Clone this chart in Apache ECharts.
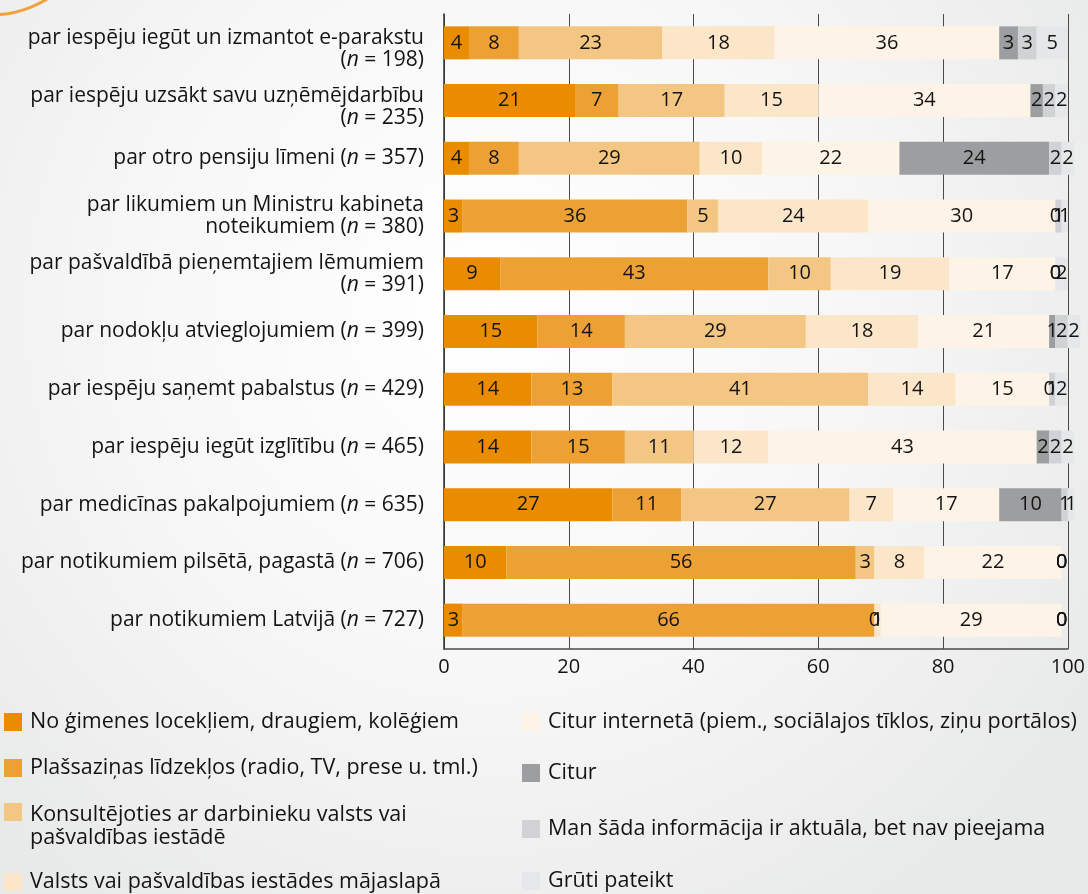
<!DOCTYPE html>
<html>
<head>
<meta charset="utf-8">
<title>Informācijas avoti</title>
<script src="https://cdn.jsdelivr.net/npm/echarts@6/dist/echarts.min.js"></script>
<style>
  html, body { margin: 0; padding: 0; }
  #chart { width: 1088px; height: 894px; }
</style>
</head>
<body>
<div id="chart"></div>
<script>
// kategorijas (no augšas uz leju)
const categories = [
  'par iespēju iegūt un izmantot e-parakstu\n(n = 198)',
  'par iespēju uzsākt savu uzņēmējdarbību\n(n = 235)',
  'par otro pensiju līmeni (n = 357)',
  'par likumiem un Ministru kabineta\nnoteikumiem (n = 380)',
  'par pašvaldībā pieņemtajiem lēmumiem\n(n = 391)',
  'par nodokļu atvieglojumiem (n = 399)',
  'par iespēju saņemt pabalstus (n = 429)',
  'par iespēju iegūt izglītību (n = 465)',
  'par medicīnas pakalpojumiem (n = 635)',
  'par notikumiem pilsētā, pagastā (n = 706)',
  'par notikumiem Latvijā (n = 727)'
];

const sources = [
  'No ģimenes locekļiem, draugiem, kolēģiem',
  'Plašsaziņas līdzekļos (radio, TV, prese u. tml.)',
  'Konsultējoties ar darbinieku valsts vai pašvaldības iestādē',
  'Valsts vai pašvaldības iestādes mājaslapā',
  'Citur internetā (piem., sociālajos tīklos, ziņu portālos)',
  'Citur',
  'Man šāda informācija ir aktuāla, bet nav pieejama',
  'Grūti pateikt'
];

// vērtības, %
const family       = [4, 21, 4, 3, 9, 15, 14, 14, 27, 10, 3];
const media        = [8, 7, 8, 36, 43, 14, 13, 15, 11, 56, 66];
const consult      = [23, 17, 29, 5, 10, 29, 41, 11, 27, 3, 0];
const website      = [18, 15, 10, 24, 19, 18, 14, 12, 7, 8, 1];
const internet     = [36, 34, 22, 30, 17, 21, 15, 43, 17, 22, 29];
const elsewhere    = [3, 2, 24, 0, 0, 1, 0, 2, 10, 0, 0];
const notAvailable = [3, 2, 2, 1, 0, 2, 1, 2, 1, 0, 0];
const hardToSay    = [5, 2, 2, 1, 2, 2, 2, 2, 1, 0, 0];

const xTicks = [0, 20, 40, 60, 80, 100];

const seriesValues = [family, media, consult, website, internet, elsewhere, notAvailable, hardToSay];
const colors = ['#ea8c00', '#eda134', '#f4c683', '#fbe6ca', '#fdf3e6', '#9d9e9f', '#d1d2d4', '#e6e7e8'];

const textColor = '#141414';
const fontFamily = '"Open Sans", "Noto Sans", sans-serif';

const chart = echarts.init(document.getElementById('chart'));

// leģenda: divas kolonnas, katrs ieraksts atsevišķi
const legendPos = [
  { left: 4, top: 710 },
  { left: 4, top: 756 },
  { left: 4, top: 803, twoLines: true },
  { left: 4, top: 870 },
  { left: 522, top: 710 },
  { left: 522, top: 761 },
  { left: 522, top: 817 },
  { left: 522, top: 869 }
];

const legends = sources.map((name, i) => {
  const pos = legendPos[i];
  return {
    data: [name],
    left: pos.left,
    top: pos.top,
    padding: 0,
    itemWidth: 18,
    itemHeight: pos.twoLines ? 46 : 18,
    icon: pos.twoLines ? 'path://M0,0L18,0L18,18L0,18Z M0,46' : 'rect',
    selectedMode: false,
    formatter: pos.twoLines ? () => 'Konsultējoties ar darbinieku valsts vai\npašvaldības iestādē' : undefined,
    textStyle: {
      color: textColor,
      fontSize: 21.5,
      lineHeight: pos.twoLines ? 23 : 24,
      fontFamily: fontFamily,
      padding: [0, 0, 0, 3]
    }
  };
});

const series = sources.map((name, i) => ({
  name: name,
  type: 'bar',
  stack: 'total',
  barWidth: 33,
  clip: false,
  data: seriesValues[i],
  itemStyle: { color: colors[i] },
  label: {
    show: true,
    position: 'inside',
    color: textColor,
    fontSize: 20,
    fontFamily: fontFamily
  },
  emphasis: { disabled: true }
}));

// pirmās divas etiķetes oriģinālā ir nedaudz zemāk
const yData = categories.map((c, i) => i < 2 ? { value: c, textStyle: { padding: [12, 0, 0, 0] } } : c);

const option = {
  backgroundColor: {
    type: 'radial',
    x: 0.45,
    y: 0.35,
    r: 0.8,
    colorStops: [
      { offset: 0, color: '#ffffff' },
      { offset: 0.5, color: '#f7f7f7' },
      { offset: 1, color: '#e8e9e9' }
    ]
  },
  animation: false,
  textStyle: { fontFamily: fontFamily },
  graphic: [{
    type: 'arc',
    shape: { cx: -10, cy: -95, r: 110, startAngle: 0, endAngle: Math.PI },
    style: { stroke: '#f0a23a', lineWidth: 3, fill: null }
  }],
  grid: {
    left: 444,
    right: 16,
    top: 14,
    bottom: 245,
    containLabel: false
  },
  legend: legends,
  xAxis: {
    type: 'value',
    min: xTicks[0],
    max: xTicks[xTicks.length - 1],
    interval: 20,
    axisLine: { show: true, lineStyle: { color: '#4a4a4a', width: 1.5 } },
    axisTick: { show: false },
    axisLabel: {
      color: textColor,
      fontSize: 20,
      margin: 8,
      fontFamily: fontFamily
    },
    splitLine: { show: true, lineStyle: { color: '#4a4a4a', width: 1 } }
  },
  yAxis: {
    type: 'category',
    inverse: true,
    data: yData,
    axisLine: { show: true, lineStyle: { color: '#333333', width: 1.5 } },
    axisTick: { show: false },
    axisLabel: {
      margin: 20,
      color: textColor,
      fontSize: 21,
      lineHeight: 22,
      fontFamily: fontFamily,
      align: 'right',
      formatter: value => value.replace('(n =', '({i|n} ='),
      rich: {
        i: {
          fontStyle: 'italic',
          color: textColor,
          fontSize: 21,
          lineHeight: 22,
          fontFamily: fontFamily
        }
      }
    }
  },
  series: series
};

chart.setOption(option);
</script>
</body>
</html>
